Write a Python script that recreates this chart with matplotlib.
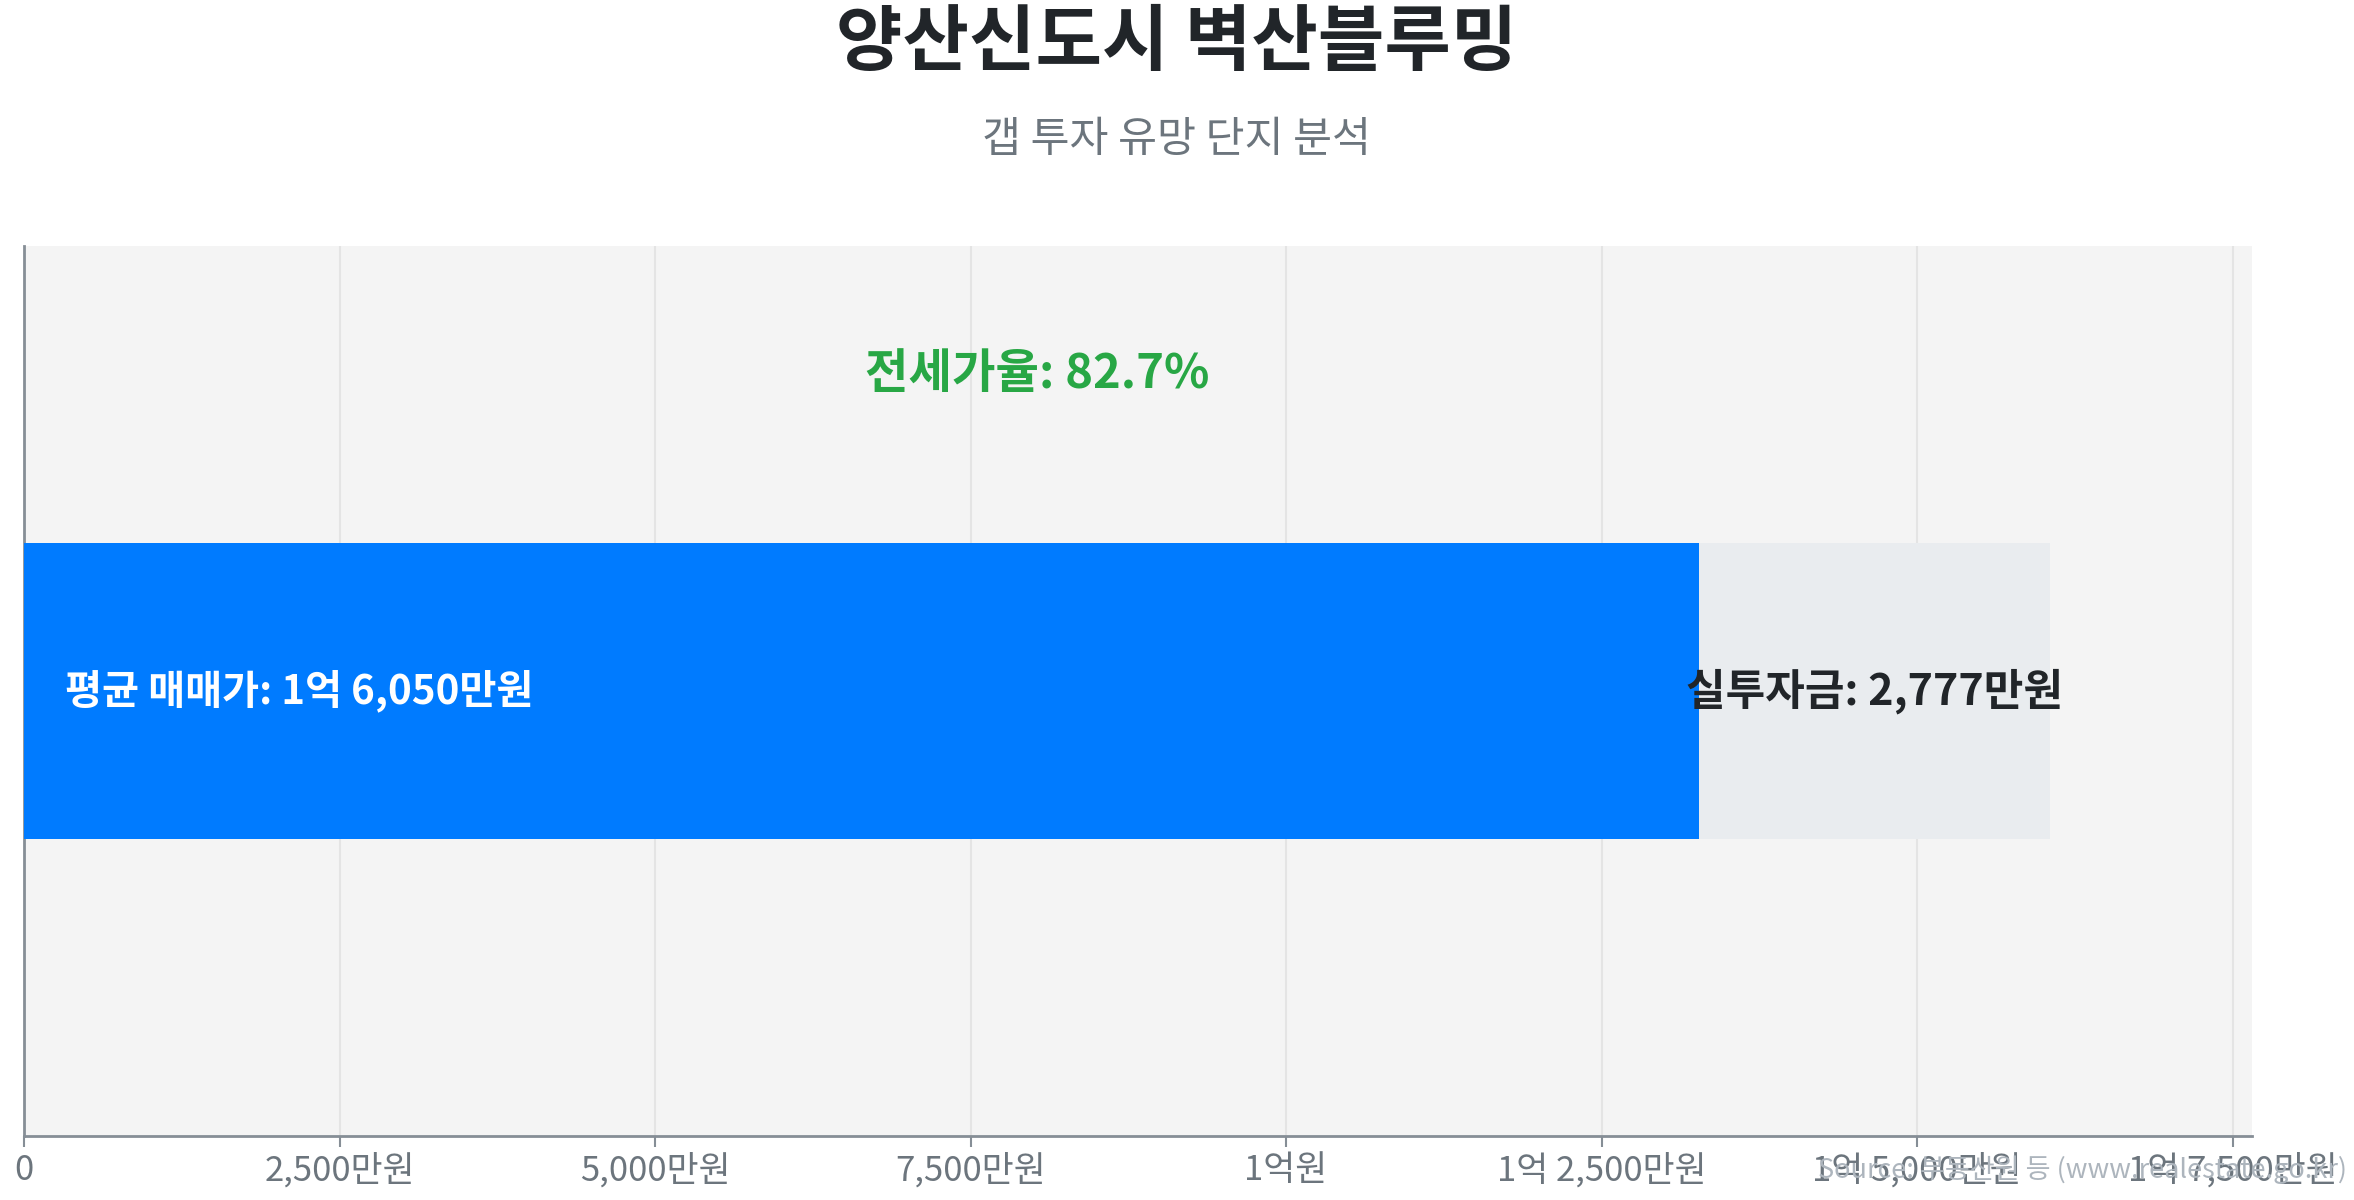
import matplotlib
matplotlib.use("Agg")
import matplotlib.pyplot as plt
from matplotlib.ticker import FuncFormatter

plt.rcParams['font.family'] = ['Noto Sans CJK KR', 'DejaVu Sans']

# data (만원)
complex_name = '양산신도시 벽산블루밍'
sale_price = 16050
jeonse_ratio = 82.7
jeonse_price = round(sale_price * jeonse_ratio / 100)
gap = sale_price - jeonse_price  # 2777
tick_values = [0, 2500, 5000, 7500, 10000, 12500, 15000, 17500]


def fmt_won(v):
    v = int(round(v))
    if v == 0:
        return '0'
    eok, man = divmod(v, 10000)
    if eok and man:
        return f'{eok}억 {man:,}만원'
    if eok:
        return f'{eok}억원'
    return f'{man:,}만원'


fig = plt.figure(figsize=(23.54, 12), dpi=100)
ax = fig.add_axes([0.0102, 0.0533, 0.9465, 0.7417])
ax.set_facecolor('#f4f4f4')

ax.barh(0, jeonse_price, height=1, color='#007bff', zorder=3)
ax.barh(0, gap, left=jeonse_price, height=1, color='#e9ecef', zorder=3)

ax.text(sale_price * 0.02, 0, f'평균 매매가: {fmt_won(sale_price)}', color='white',
        fontsize=29, fontweight='bold', va='center', ha='left', zorder=4)
ax.text(jeonse_price + gap / 2, 0, f'실투자금: {fmt_won(gap)}', color='#212529',
        fontsize=31, fontweight='bold', va='center', ha='center', zorder=4)
ax.text(sale_price / 2, 1.07, f'전세가율: {jeonse_ratio}%', color='#28a745',
        fontsize=34, fontweight='bold', va='center', ha='center', zorder=4)

ax.set_xlim(0, sale_price * 1.1)
ax.set_ylim(-1.5, 1.5)
ax.set_xticks(tick_values)
ax.xaxis.set_major_formatter(FuncFormatter(lambda v, p: fmt_won(v)))
ax.set_yticks([])
ax.grid(axis='x', color='#e4e4e4', linewidth=1.5, zorder=0)
ax.tick_params(axis='x', colors='#868e96', labelcolor='#6c757d', labelsize=25,
               length=8, width=1.5, pad=4)
for s in ['top', 'right']:
    ax.spines[s].set_visible(False)
for s in ['left', 'bottom']:
    ax.spines[s].set_color('#868e96')
    ax.spines[s].set_linewidth(2)

fig.text(0.5, 1 - 44 / 1200, complex_name, ha='center', va='center',
         fontsize=52, fontweight='bold', color='#212529')
fig.text(0.5, 1 - 140 / 1200, '갭 투자 유망 단지 분석', ha='center', va='center',
         fontsize=30.5, color='#6c757d')
fig.text(0.997, 1 - 1170 / 1200, 'Source: 부동산원 등 (www.realestate.go.kr)',
         ha='right', va='center', fontsize=19.5, color='#adb5bd')

fig.savefig('out.png', dpi=100)
